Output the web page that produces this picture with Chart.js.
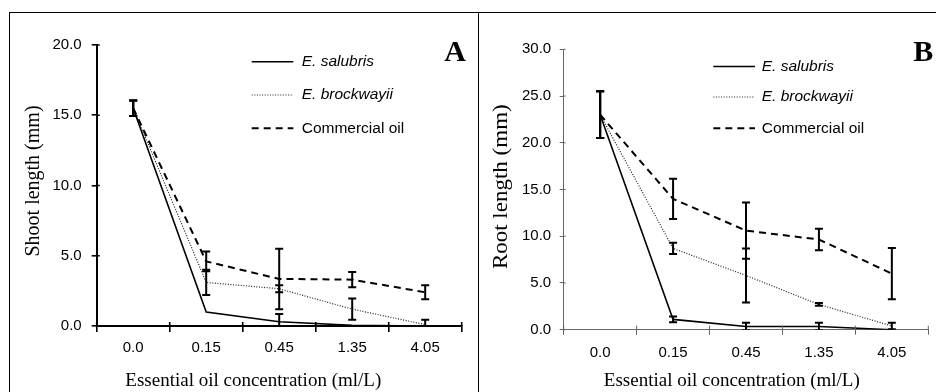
<!DOCTYPE html>
<html><head><meta charset="utf-8">
<script src="https://cdn.jsdelivr.net/npm/chart.js@4.4.1/dist/chart.umd.min.js"></script>
<style>
html,body{margin:0;padding:0;background:#fff;width:936px;height:392px;overflow:hidden;}
#wrap{position:relative;width:936px;height:392px;}
canvas{position:absolute;top:0;}
.ln{position:absolute;background:#000;}
</style></head><body>
<div id="wrap">
<canvas id="cA" width="478" height="392" style="left:0"></canvas>
<canvas id="cB" width="458" height="392" style="left:478px"></canvas>
<div class="ln" style="left:9px;top:12px;width:927px;height:1px"></div>
<div class="ln" style="left:9px;top:12px;width:1px;height:380px"></div>
<div class="ln" style="left:478px;top:12px;width:1px;height:380px"></div>
</div>
<script>
// ---- data ----
const concentrations = ['0.0', '0.15', '0.45', '1.35', '4.05'];
const seriesNames = ['E. salubris', 'E. brockwayii', 'Commercial oil'];

const salubrisShoot    = [15.5, 1.0, 0.3, 0.05, 0.0];
const brockwayiiShoot  = [15.5, 3.1, 2.65, 1.2, 0.1];
const commercialShoot  = [15.5, 4.6, 3.35, 3.3, 2.4];
const salubrisShootErr   = [0.55, 0, 0.55, 0, 0];
const brockwayiiShootErr = [0.55, 0.9, 0.25, 0.75, 0.35];
const commercialShootErr = [0.55, 0.7, 2.15, 0.55, 0.5];

const salubrisRoot    = [23.0, 1.1, 0.35, 0.35, 0.0];
const brockwayiiRoot  = [23.0, 8.7, 5.8, 2.7, 0.4];
const commercialRoot  = [23.0, 14.0, 10.6, 9.65, 6.0];
const salubrisRootErr   = [2.5, 0.3, 0.4, 0.4, 0];
const brockwayiiRootErr = [2.5, 0.6, 2.9, 0.15, 0.35];
const commercialRootErr = [2.5, 2.15, 3.0, 1.15, 2.75];

const shootTicks = {max: 20, step: 5};
const rootTicks = {max: 30, step: 5};

// ---- plugin: error bars, legend, titles, panel letter ----
const decoPlugin = {
  id: 'deco',
  afterDatasetsDraw(chart, args, o) {
    const ctx = chart.ctx, xs = chart.scales.x, ys = chart.scales.y, ca = chart.chartArea;
    ctx.save();
    ctx.beginPath(); ctx.rect(ca.left - 10, 0, ca.right - ca.left + 20, ca.bottom); ctx.clip();
    ctx.strokeStyle = '#000'; ctx.lineWidth = o.errWidth; ctx.setLineDash([]);
    chart.data.datasets.forEach(ds => {
      ds.errors.forEach((e, i) => {
        if (!e) return;
        const v = ds.data[i];
        const x = xs.getPixelForValue(i);
        const yt = ys.getPixelForValue(v + e), yb = ys.getPixelForValue(v - e);
        ctx.beginPath();
        ctx.moveTo(x, yt); ctx.lineTo(x, yb);
        ctx.moveTo(x - 4, yt); ctx.lineTo(x + 4, yt);
        ctx.moveTo(x - 4, yb); ctx.lineTo(x + 4, yb);
        ctx.stroke();
      });
    });
    ctx.restore();
  },
  afterDraw(chart, args, o) {
    const ctx = chart.ctx, xs = chart.scales.x, ys = chart.scales.y, ca = chart.chartArea;
    ctx.save();
    // inner tick parts
    ctx.strokeStyle = o.axisColor; ctx.lineWidth = o.tickWidth;
    ctx.beginPath();
    for (let v = 0; v <= ys.max; v += ys.options.ticks.stepSize) {
      const y = ys.getPixelForValue(v);
      ctx.moveTo(ca.left, y); ctx.lineTo(ca.left + o.inTickY, y);
    }
    for (let i = 0; i <= chart.data.labels.length; i++) {
      const x = xs.getPixelForValue(i - 0.5);
      ctx.moveTo(x, ca.bottom); ctx.lineTo(x, ca.bottom - o.inTickX);
    }
    ctx.stroke();
    // legend
    const L = o.legend;
    chart.data.datasets.forEach((ds, i) => {
      const y = L.ys[i];
      ctx.save();
      ctx.strokeStyle = ds.borderColor; ctx.lineWidth = ds.legendWidth || ds.borderWidth;
      ctx.setLineDash(ds.borderDash || []);
      ctx.beginPath(); ctx.moveTo(L.x1, y); ctx.lineTo(L.x2, y); ctx.stroke();
      ctx.restore();
      ctx.fillStyle = '#000'; ctx.textBaseline = 'middle'; ctx.textAlign = 'left';
      ctx.font = (ds.italic ? 'italic ' : '') + '15.5px "Liberation Sans", Arial, sans-serif';
      ctx.fillText(ds.label, L.tx, y);
    });
    // panel letter
    ctx.fillStyle = '#000'; ctx.textAlign = 'center'; ctx.textBaseline = 'middle';
    ctx.font = 'bold 30px "Liberation Serif", "Times New Roman", serif';
    ctx.fillText(o.letter, o.letterX, o.letterY);
    // axis titles
    ctx.font = o.xTitleSize + 'px "Liberation Serif", "Times New Roman", serif';
    ctx.fillText(o.xTitle, o.xTitleX, o.xTitleY);
    ctx.save();
    ctx.translate(o.yTitleX, o.yTitleY); ctx.rotate(-Math.PI / 2);
    ctx.scale(o.yTitleStretch || 1, 1);
    ctx.font = o.yTitleSize + 'px "Liberation Serif", "Times New Roman", serif';
    ctx.fillText(o.yTitle, 0, 0);
    ctx.restore();
    ctx.restore();
  }
};

function makeChart(id, vals, errs, ticks, p) {
  const styles = [
    {borderColor: '#000', borderWidth: 1.6, borderDash: [], italic: true},
    {borderColor: '#222', borderWidth: 1.2, borderDash: [1, 1.6], italic: true},
    {borderColor: '#000', borderWidth: 2, borderDash: [7, 5], italic: false}
  ];
  return new Chart(document.getElementById(id), {
    type: 'line',
    data: {
      labels: concentrations,
      datasets: seriesNames.map((n, i) => Object.assign({
        label: n, data: vals[i], errors: errs[i],
        pointRadius: 0, tension: 0, fill: false
      }, styles[i]))
    },
    plugins: [decoPlugin],
    options: {
      responsive: false, animation: false, devicePixelRatio: 1,
      layout: {padding: p.pad},
      plugins: {
        legend: {display: false}, tooltip: {enabled: false},
        deco: p.deco
      },
      scales: {
        x: {
          offset: true,
          grid: {offset: true, drawOnChartArea: false, drawTicks: true, tickLength: p.tickLenX, color: p.axisColor, lineWidth: p.tickWidth},
          border: {color: p.axisColor, width: p.axisWidth},
          ticks: {color: '#000', padding: p.xPad, font: {family: '"Liberation Sans", Arial, sans-serif', size: 15}, maxRotation: 0},
          afterFit(s) { s.height = 30; }
        },
        y: {
          min: 0, max: ticks.max,
          grid: {drawOnChartArea: false, drawTicks: true, tickLength: p.tickLenY, color: p.axisColor, lineWidth: p.tickWidth},
          border: {color: p.axisColor, width: p.axisWidth},
          ticks: {stepSize: ticks.step, color: '#000', padding: p.yPad, font: {family: '"Liberation Sans", Arial, sans-serif', size: 15},
                  callback: v => Number(v).toFixed(1)},
          afterFit(s) { s.width = 60; }
        }
      }
    }
  });
}

makeChart('cA', [salubrisShoot, brockwayiiShoot, commercialShoot],
  [salubrisShootErr, brockwayiiShootErr, commercialShootErr], shootTicks, {
  pad: {left: 36.7, top: 45, right: 16.3, bottom: 36},
  axisColor: '#000', axisWidth: 2, tickWidth: 1.6, tickLenX: 6, tickLenY: 5, xPad: 7, yPad: 10,
  deco: {
    errWidth: 2, axisColor: '#000', tickWidth: 1.6, inTickX: 4, inTickY: 3,
    legend: {x1: 251.7, x2: 293.3, tx: 301.7, ys: [61.7, 95, 128.3]},
    letter: 'A', letterX: 455, letterY: 53,
    xTitle: 'Essential oil concentration (ml/L)', xTitleX: 253.3, xTitleY: 381.5, xTitleSize: 19,
    yTitle: 'Shoot length (mm)', yTitleX: 34, yTitleY: 181, yTitleSize: 20
  }
});

makeChart('cB', [salubrisRoot, brockwayiiRoot, commercialRoot],
  [salubrisRootErr, brockwayiiRootErr, commercialRootErr], rootTicks, {
  pad: {left: 25.7, top: 49.3, right: 7.7, bottom: 32.3},
  axisColor: '#666', axisWidth: 1, tickWidth: 1, tickLenX: 5, tickLenY: 4, xPad: 9, yPad: 8.5,
  deco: {
    errWidth: 2, axisColor: '#666', tickWidth: 1, inTickX: 4, inTickY: 2,
    legend: {x1: 235.3, x2: 277, tx: 283.7, ys: [66.5, 97, 128.3]},
    letter: 'B', letterX: 445.3, letterY: 53,
    xTitle: 'Essential oil concentration (ml/L)', xTitleX: 253.8, xTitleY: 381.5, xTitleSize: 19,
    yTitle: 'Root length (mm)', yTitleX: 24, yTitleY: 186.7, yTitleSize: 20, yTitleStretch: 1.15
  }
});
</script>
</body></html>
